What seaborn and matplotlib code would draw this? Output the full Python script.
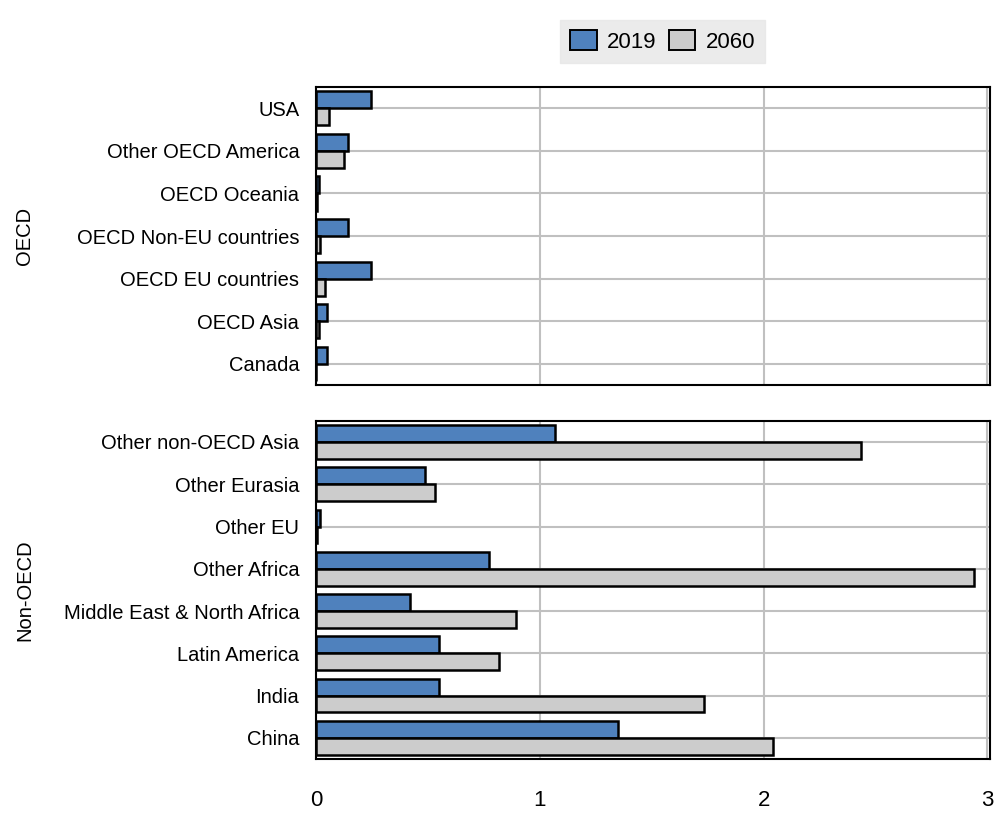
import matplotlib
matplotlib.use('Agg')
import pandas as pd
import seaborn as sns
from matplotlib import pyplot as plt
from matplotlib.patches import Patch

oecd_regions = ['USA', 'Other OECD America', 'OECD Oceania', 'OECD Non-EU countries',
                'OECD EU countries', 'OECD Asia', 'Canada']
oecd_2019 = [0.246, 0.142, 0.014, 0.142, 0.246, 0.048, 0.048]
oecd_2060 = [0.057, 0.124, 0.003, 0.020, 0.039, 0.012, 0.002]

non_oecd_regions = ['Other non-OECD Asia', 'Other Eurasia', 'Other EU', 'Other Africa',
                    'Middle East & North Africa', 'Latin America', 'India', 'China']
non_oecd_2019 = [1.066, 0.489, 0.018, 0.772, 0.420, 0.550, 0.550, 1.350]
non_oecd_2060 = [2.436, 0.532, 0.003, 2.940, 0.893, 0.817, 1.733, 2.043]

years = ['2019', '2060']
colors = {'2019': '#4F81BD', '2060': '#CCCCCC'}
fsize = 14.5


def to_long(regions, v2019, v2060):
    df = pd.DataFrame({'region': regions, '2019': v2019, '2060': v2060})
    return df.melt(id_vars='region', value_vars=years, var_name='year', value_name='value')


sns.set_style('white')
plt.rcParams['font.family'] = ['Liberation Sans', 'DejaVu Sans']
plt.rcParams['text.color'] = 'black'
plt.rcParams['axes.labelcolor'] = 'black'
plt.rcParams['xtick.color'] = 'black'
plt.rcParams['ytick.color'] = 'black'

fig = plt.figure(figsize=(9.98, 8.14), dpi=100)
ax_top = fig.add_axes([0.3166, 0.527, 0.675, 0.366])
ax_bot = fig.add_axes([0.3166, 0.0676, 0.675, 0.4154])

panels = [
    (ax_top, to_long(oecd_regions, oecd_2019, oecd_2060), oecd_regions, 'OECD'),
    (ax_bot, to_long(non_oecd_regions, non_oecd_2019, non_oecd_2060), non_oecd_regions, 'Non-OECD'),
]

for ax, df, order, label in panels:
    sns.barplot(data=df, x='value', y='region', hue='year', order=order, hue_order=years,
                palette=colors, saturation=1, orient='h', width=0.8, edgecolor='black',
                linewidth=1.8, legend=False, ax=ax)
    ax.set_axisbelow(True)
    ax.grid(True, axis='both', color='#C0C0C0', linewidth=1.5)
    ax.set_xlim(0, 3.01)
    ax.set_xticks([0, 1, 2, 3])
    ax.set_xlabel('')
    ax.set_ylabel(label, fontsize=fsize)
    ax.yaxis.set_label_coords(-0.418, 0.5)
    ax.tick_params(axis='both', length=0, labelsize=fsize)
    ax.tick_params(axis='y', pad=12)
    ax.tick_params(axis='x', pad=22, labelsize=16)
    for side in ['top', 'bottom', 'left', 'right']:
        ax.spines[side].set_visible(True)
        ax.spines[side].set_color('black')
        ax.spines[side].set_linewidth(1.5)

ax_top.tick_params(axis='x', labelbottom=False)

handles = [Patch(facecolor=colors[y], edgecolor='black', linewidth=1.4, label=y) for y in years]
leg = fig.legend(handles=handles, loc='center', bbox_to_anchor=(0.664, 0.949), ncol=2,
                 frameon=True, fontsize=16, handlelength=1.2, handleheight=1.0,
                 handletextpad=0.45, columnspacing=0.55, borderpad=0.45, borderaxespad=0,
                 fancybox=False)
leg.get_frame().set_facecolor('#E6E6E6')
leg.get_frame().set_edgecolor('#E6E6E6')
for lt in leg.get_texts():
    lt.set_x(0)

fig.savefig('out.png', dpi=100)
